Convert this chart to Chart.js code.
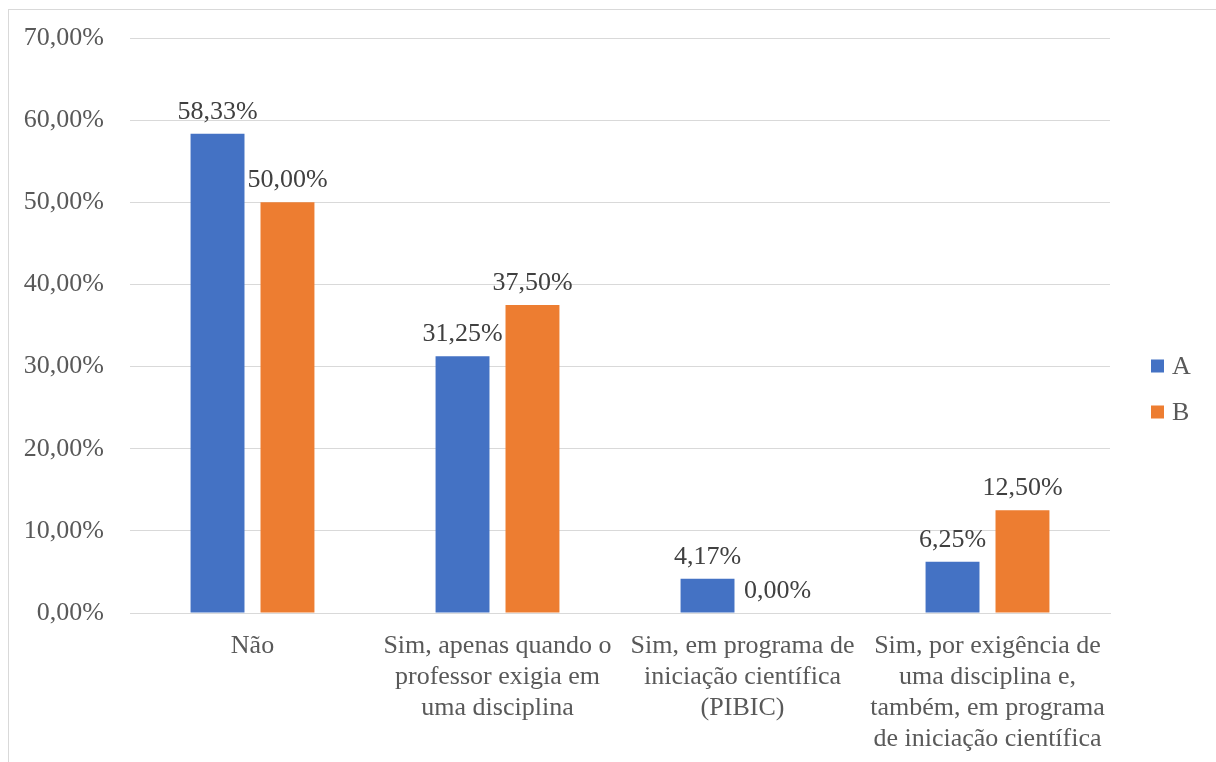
<!DOCTYPE html>
<html lang="pt-BR">
<head>
<meta charset="utf-8">
<title>Participação em pesquisa</title>
<script src="https://cdn.jsdelivr.net/npm/chart.js@4.4.1/dist/chart.umd.min.js"></script>
<style>
  html, body { margin: 0; padding: 0; background: #fff; overflow: hidden; }
  .frame {
    position: absolute;
    left: 8px;
    top: 9px;
    width: 1240px;
    height: 790px;
    border: 1px solid #d9d9d9;
    background: #fff;
  }
  #chart { display: block; }
</style>
</head>
<body>
<div class="frame">
  <canvas id="chart" width="1207" height="752"></canvas>
</div>
<script>
"use strict";

// ─── Data ─────────────────────────────────────────────────
const CATEGORIES = [
  "Não",
  ["Sim, apenas quando o", "professor exigia em", "uma disciplina"],
  ["Sim, em programa de", "iniciação científica", "(PIBIC)"],
  ["Sim, por exigência de", "uma disciplina e,", "também, em programa", "de iniciação científica"],
];
const SERIES_NAMES = ["A", "B"];
const VALUES_A = [58.33, 31.25, 4.17, 6.25];
const VALUES_B = [50.00, 37.50, 0.00, 12.50];
const Y_MIN = 0;
const Y_MAX = 70;
const Y_STEP = 10;

// ─── Palette ──────────────────────────────────────────────
const COLORS = {
  blue:   "#4472c4",
  orange: "#ed7d31",
  grid:   "#d9d9d9",
  axis:   "#595959",
  label:  "#404040",
};
const FONT_FAMILY = "'Liberation Serif', 'Times New Roman', serif";
const FONT_SIZE = 26;

// 58.33 -> "58,33%"
function pct(v) {
  return v.toFixed(2).replace(".", ",") + "%";
}

// Value labels above each bar
const barValueLabels = {
  id: "barValueLabels",
  afterDatasetsDraw(chart) {
    const { ctx } = chart;
    ctx.save();
    ctx.font = `${FONT_SIZE}px ${FONT_FAMILY}`;
    ctx.fillStyle = COLORS.label;
    ctx.textAlign = "center";
    ctx.textBaseline = "alphabetic";
    chart.data.datasets.forEach((ds, di) => {
      const meta = chart.getDatasetMeta(di);
      meta.data.forEach((bar, i) => {
        ctx.fillText(pct(ds.data[i]), bar.x, bar.y - 15);
      });
    });
    ctx.restore();
  },
};

// Legend to the right of the plot: small square + series name
const sideLegend = {
  id: "sideLegend",
  afterDraw(chart) {
    const { ctx, chartArea } = chart;
    const x = chartArea.right + 41;
    ctx.save();
    ctx.font = `${FONT_SIZE}px ${FONT_FAMILY}`;
    ctx.textAlign = "left";
    ctx.textBaseline = "middle";
    chart.data.datasets.forEach((ds, i) => {
      const cy = 356 + i * 46;
      ctx.fillStyle = ds.backgroundColor;
      ctx.fillRect(x, cy - 6.5, 13, 13);
      ctx.fillStyle = COLORS.axis;
      ctx.fillText(ds.label, x + 21, cy + 1);
    });
    ctx.restore();
  },
};

Chart.defaults.font.family = FONT_FAMILY;
Chart.defaults.font.size = FONT_SIZE;
Chart.defaults.color = COLORS.axis;

new Chart(document.getElementById("chart"), {
  type: "bar",
  data: {
    labels: CATEGORIES,
    datasets: [
      { label: SERIES_NAMES[0], data: VALUES_A, backgroundColor: COLORS.blue },
      { label: SERIES_NAMES[1], data: VALUES_B, backgroundColor: COLORS.orange },
    ],
  },
  options: {
    responsive: false,
    animation: false,
    categoryPercentage: 0.571,
    barPercentage: 0.771,
    layout: { padding: { top: 28, right: 106, bottom: 0, left: 0 } },
    scales: {
      x: {
        grid: { display: false },
        border: { display: true, color: COLORS.grid, width: 1 },
        ticks: {
          color: COLORS.axis,
          padding: 10,
          maxRotation: 0,
          autoSkip: false,
          font: { size: FONT_SIZE, lineHeight: 1.19 },
        },
        afterFit(scale) {
          scale.height = 149;
          scale.paddingLeft = 0;
          scale.paddingRight = 0;
        },
      },
      y: {
        min: Y_MIN,
        max: Y_MAX,
        grid: { color: COLORS.grid, lineWidth: 1, drawTicks: false },
        border: { display: false },
        ticks: {
          stepSize: Y_STEP,
          padding: 26,
          color: COLORS.axis,
          font: { size: FONT_SIZE },
          callback: (v) => pct(v),
        },
        afterFit(scale) {
          scale.width = 121;
          scale.paddingTop = 0;
          scale.paddingBottom = 0;
        },
      },
    },
    plugins: {
      legend: { display: false },
      tooltip: { enabled: false },
    },
  },
  plugins: [barValueLabels, sideLegend],
});
</script>
</body>
</html>
